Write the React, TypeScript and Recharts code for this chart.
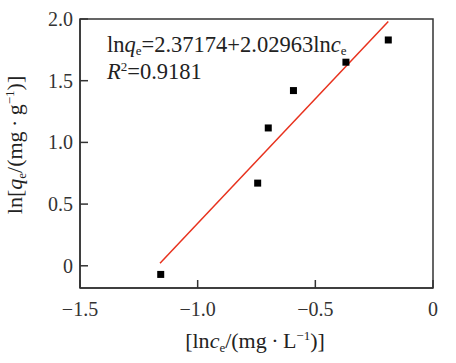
import {
  ComposedChart,
  Scatter,
  XAxis,
  YAxis,
  ReferenceArea,
} from "recharts";

const lnCe = [-1.157, -0.745, -0.7, -0.593, -0.37, -0.19];
const lnQe = [-0.07, 0.67, 1.117, 1.42, 1.65, 1.83];
const fitX = [-1.16, -0.19];
const fitY = [0.02, 1.98];
const xTicks = [-1.5, -1.0, -0.5, 0];
const yTicks = [0, 0.5, 1.0, 1.5, 2.0];

const points = lnCe.map((x, i) => ({ x, y: lnQe[i] }));
const fit = fitX.map((x, i) => ({ x, y: fitY[i] }));

const font = "Liberation Serif, Times New Roman, serif";
const axisColor = "#333";
const textStyle = { fontFamily: font };

const fmtX = (v: number) => (v === 0 ? "0" : v.toFixed(1).replace("-", "\u2212"));
const fmtY = (v: number) => (v === 0 ? "0" : v.toFixed(1));

function Square(props: any) {
  const { cx, cy } = props;
  return <rect x={cx - 3.5} y={cy - 3.5} width={7} height={7} fill="#000" />;
}

export default function App() {
  return (
    <div style={{ position: "absolute", left: 0, top: 0, fontFamily: font }}>
      <ComposedChart
        width={456}
        height={363}
        margin={{ top: 19, right: 23, bottom: 25, left: 0 }}
        style={textStyle}
      >
        <XAxis
          type="number"
          dataKey="x"
          domain={[-1.5, 0]}
          ticks={xTicks}
          tickFormatter={fmtX}
          height={50}
          allowDataOverflow
          tickSize={-8}
          tickMargin={22}
          stroke={axisColor}
          strokeWidth={1.5}
          tick={{ fill: "#333", fontSize: 20, fontFamily: font, style: textStyle }}
        />
        <YAxis
          type="number"
          dataKey="y"
          domain={[-0.18, 2.0]}
          ticks={yTicks}
          tickFormatter={fmtY}
          width={80}
          allowDataOverflow
          tickSize={-8}
          tickMargin={15}
          stroke={axisColor}
          strokeWidth={1.5}
          tick={{ fill: "#333", fontSize: 20, fontFamily: font, style: textStyle }}
        />
        <ReferenceArea
          x1={-1.5}
          x2={0}
          y1={-0.18}
          y2={2.0}
          fill="none"
          stroke={axisColor}
          strokeWidth={1.5}
          ifOverflow="visible"
        />
        <Scatter
          data={fit}
          line={{ stroke: "#e8321e", strokeWidth: 1.5 }}
          shape={() => <g />}
          isAnimationActive={false}
        />
        <Scatter data={points} shape={Square} isAnimationActive={false} />
        <text x={107} y={52} fontSize={22.5} style={textStyle} fill="#222">
          ln<tspan fontStyle="italic">q</tspan>
          <tspan fontSize={13} dy={3}>e</tspan>
          <tspan dy={-3}>=2.37174+2.02963ln</tspan>
          <tspan fontStyle="italic">c</tspan>
          <tspan fontSize={13} dy={3}>e</tspan>
        </text>
        <text x={107} y={79} fontSize={22.5} style={textStyle} fill="#222">
          <tspan fontStyle="italic">R</tspan>
          <tspan fontSize={13} dy={-8}>2</tspan>
          <tspan dy={8}>=0.9181</tspan>
        </text>
        <text
          x={255}
          y={348}
          textAnchor="middle"
          fontSize={22}
          style={textStyle}
          fill="#222"
        >
          [ln<tspan fontStyle="italic">c</tspan>
          <tspan fontSize={13} dy={4}>e</tspan>
          <tspan dy={-4}>/(mg{"\u2009·\u2009"}L</tspan>
          <tspan fontSize={13} dy={-8}>−1</tspan>
          <tspan dy={8}>)]</tspan>
        </text>
        <text
          x={22}
          y={145}
          textAnchor="middle"
          fontSize={22}
          style={textStyle}
          fill="#222"
          transform="rotate(-90 22 145)"
        >
          ln[<tspan fontStyle="italic">q</tspan>
          <tspan fontSize={13} dy={4}>e</tspan>
          <tspan dy={-4}>/(mg{"\u2009·\u2009"}g</tspan>
          <tspan fontSize={13} dy={-8}>−1</tspan>
          <tspan dy={8}>)]</tspan>
        </text>
      </ComposedChart>
    </div>
  );
}
